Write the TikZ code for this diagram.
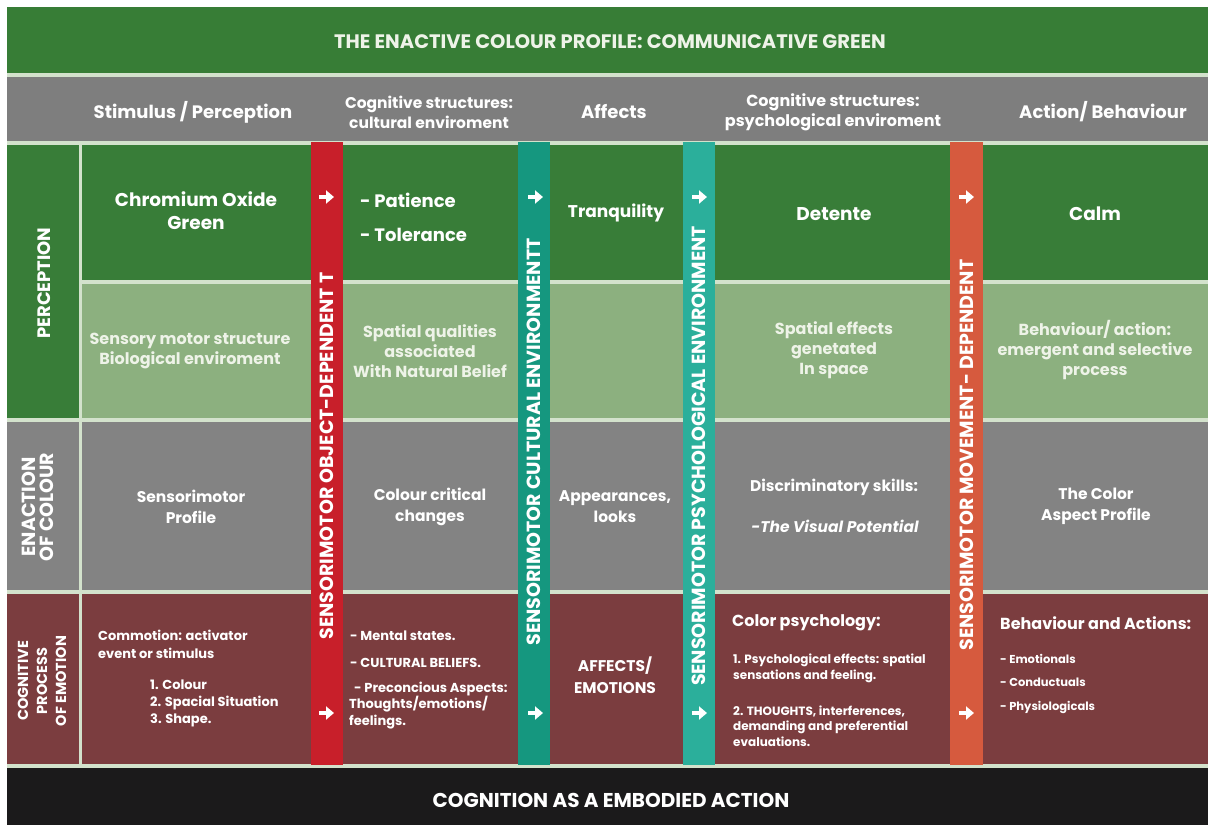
\documentclass[tikz,border=0pt]{standalone}
\usepackage{fontspec}
\setmainfont{Poppins}
\usetikzlibrary{arrows.meta}
\definecolor{hdrgreen}{HTML}{377D36}
\definecolor{hdrgray}{HTML}{7E7E7E}
\definecolor{dkgreen}{HTML}{387D38}
\definecolor{ltgreen}{HTML}{8CB07F}
\definecolor{midgray}{HTML}{838383}
\definecolor{maroonc}{HTML}{7B3D3F}
\definecolor{footblack}{HTML}{1B1A1B}
\definecolor{barred}{HTML}{C81F2A}
\definecolor{barteal}{HTML}{15977F}
\definecolor{barteal2}{HTML}{2BAF9B}
\definecolor{barorange}{HTML}{D65A3E}
\definecolor{sepc}{HTML}{D3E2CC}
\definecolor{paletxt}{HTML}{EEF3E8}
\tikzset{
  base/.style={inner sep=0pt, text=white},
  titletxt/.style={base, font=\fontsize{19.5}{22}\selectfont\bfseries},
  colhead/.style={base, align=center, font=\fontsize{18}{20}\selectfont\bfseries},
  colhead2/.style={base, align=center, font=\fontsize{15.5}{20}\selectfont\bfseries},
  bigtxt/.style={base, align=center, font=\fontsize{18.5}{23}\selectfont\bfseries},
  midtxt/.style={base, align=center, text=paletxt, font=\fontsize{16}{20}\selectfont\bfseries},
  graytxt/.style={base, align=center, font=\fontsize{15.5}{21}\selectfont\bfseries},
  smalltxt/.style={base, align=left, font=\fontsize{13}{18}\selectfont\bfseries},
  subhead/.style={base, align=left, font=\fontsize{16}{18}\selectfont\bfseries},
  tinytxt/.style={base, align=left, font=\fontsize{12}{15.5}\selectfont\bfseries},
  barlabel/.style={base, rotate=90, font=\fontsize{19}{19}\selectfont\bfseries},
  sidelabel/.style={base, rotate=90, align=center, font=\fontsize{18}{17}\selectfont\bfseries},
  arrowmark/.style={draw=white, line width=4pt, -{Triangle[length=8pt,width=13pt]}},
}
\begin{document}
\begin{tikzpicture}[x=1pt,y=-1pt]
\useasboundingbox (0,0) rectangle (1208,825);
\fill[white] (0,0) rectangle (1208,825);
\fill[sepc] (7,7) rectangle (1208,768);
% bands
\fill[hdrgreen] (7,7) rectangle (1208,73);
\fill[hdrgray] (7,77) rectangle (1208,141);
\fill[dkgreen] (7,145) rectangle (1208,280);
\fill[dkgreen] (7,280) rectangle (79,418);
\fill[ltgreen] (82,284) rectangle (1208,418);
\fill[midgray] (7,422) rectangle (1208,590);
\fill[maroonc] (7,594) rectangle (1208,764);
\fill[footblack] (7,768) rectangle (1208,825);
% left divider
\fill[sepc] (79,145) rectangle (82,764);
% bars
\fill[barred] (311,142) rectangle (343,765);
\fill[barteal] (518,142) rectangle (550,765);
\fill[barteal2] (683,142) rectangle (715,765);
\fill[barorange] (950,142) rectangle (983,765);

% title and footer
\node[titletxt, text=paletxt] (title) at (610,42) {THE ENACTIVE COLOUR PROFILE: COMMUNICATIVE GREEN};
\node[titletxt, font=\fontsize{20}{22}\selectfont\bfseries] (footer) at (611,800) {COGNITION AS A EMBODIED ACTION};

% column heads
\node[colhead] (h1) at (193,112) {Stimulus / Perception};
\node[colhead2] (h2) at (429,112) {Cognitive structures:\\cultural enviroment};
\node[colhead] (h3) at (614,112) {Affects};
\node[colhead2, font=\fontsize{16}{20}\selectfont\bfseries] (h4) at (833,112) {Cognitive structures:\\psychological enviroment};
\node[colhead] (h5) at (1103,112) {Action/ Behaviour};

% side labels
\node[sidelabel] (sPer) at (44,283) {PERCEPTION};
\node[sidelabel, font=\fontsize{19}{17.5}\selectfont\bfseries] (sEna) at (38,507) {ENACTION\\OF COLOUR};
\node[sidelabel, font=\fontsize{14.5}{19}\selectfont\bfseries] (sCog) at (42,681) {COGNITIVE\\PROCESS\\OF EMOTION};

% bar labels
\node[barlabel] (bRed) at (327,456) {SENSORIMOTOR OBJECT-DEPENDENT T};
\node[barlabel] (bTeal) at (534,442) {SENSORIMOTOR CULTURAL ENVIRONMENTT};
\node[barlabel] (bTeal2) at (699,456) {SENSORIMOTOR PSYCHOLOGICAL ENVIRONMENT};
\node[barlabel] (bOra) at (967,455) {SENSORIMOTOR MOVEMENT- DEPENDENT};

% arrows
\coordinate (a1) at (326,197);
\coordinate (a2) at (535,197);
\coordinate (a3) at (699,197);
\coordinate (a4) at (966,197);
\coordinate (a5) at (326,713);
\coordinate (a6) at (535,713);
\coordinate (a7) at (699,713);
\coordinate (a8) at (966,713);
\foreach \a in {a1,a2,a3,a4,a5,a6,a7,a8}
  \draw[arrowmark] ([xshift=-7pt]\a) -- ([xshift=8pt]\a);

% row 1
\node[bigtxt] (r1c1) at (196,210.5) {Chromium Oxide\\Green};
\node[bigtxt, align=left, anchor=west, font=\fontsize{18}{34}\selectfont\bfseries] (r1c2) at (360,217) {- Patience\\- Tolerance};
\node[bigtxt, font=\fontsize{17}{23}\selectfont\bfseries] (r1c3) at (616,213) {Tranquility};
\node[bigtxt] (r1c4) at (834,214) {Detente};
\node[bigtxt] (r1c5) at (1095,214) {Calm};

% row 2
\node[midtxt] (r2c1) at (190,351) {Sensory motor structure\\Biological enviroment};
\node[midtxt] (r2c2) at (430,351) {Spatial qualities\\associated\\With Natural Belief};
\node[midtxt] (r2c4) at (834,350) {Spatial effects\\genetated\\In space};
\node[midtxt] (r2c5) at (1095,350) {Behaviour/ action:\\emergent and selective\\process};

% row 3
\node[graytxt] (r3c1) at (191,506.5) {Sensorimotor\\Profile};
\node[graytxt] (r3c2) at (430,506.5) {Colour critical\\changes};
\node[graytxt] (r3c3) at (615,506.5) {Appearances,\\looks};
\node[graytxt] (r3c4a) at (834,487) {Discriminatory skills:};
\node[graytxt, font=\fontsize{15.5}{21}\selectfont\bfseries\itshape] (r3c4b) at (835,526) {-The Visual Potential};
\node[graytxt] (r3c5) at (1096,506.5) {The Color\\Aspect Profile};

% row 4
\node[smalltxt, anchor=west] (r4c1a) at (98,644) {Commotion: activator\\event or stimulus};
\node[smalltxt, anchor=west, font=\fontsize{13}{17}\selectfont\bfseries] (r4c1b) at (150,703) {1. Colour\\2. Spacial Situation\\3. Shape.};
\node[smalltxt, anchor=west] (r4c2a) at (350,636) {- Mental states.};
\node[smalltxt, anchor=west] (r4c2b) at (350,663) {- CULTURAL BELIEFS.};
\node[smalltxt, anchor=west, font=\fontsize{13}{16.5}\selectfont\bfseries] (r4c2c) at (349,705.5) {\hspace*{5pt}- Preconcious Aspects:\\Thoughts/emotions/\\feelings.};
\node[graytxt, font=\fontsize{15.5}{22}\selectfont\bfseries] (r4c3) at (615,675) {AFFECTS/\\EMOTIONS};
\node[subhead, anchor=west] (r4c4a) at (732,623) {Color psychology:};
\node[tinytxt, anchor=west, font=\fontsize{12}{16}\selectfont\bfseries] (r4c4b) at (733,668) {1. Psychological effects: spatial\\sensations and feeling.};
\node[tinytxt, anchor=west] (r4c4c) at (733,726) {2. THOUGHTS, interferences,\\demanding and preferential\\evaluations.};
\node[subhead, anchor=west] (r4c5a) at (1000,623) {Behaviour and Actions:};
\node[tinytxt, anchor=west, font=\fontsize{11.5}{23.5}\selectfont\bfseries] (r4c5b) at (1000,683.5) {- Emotionals\\- Conductuals\\- Physiologicals};
\end{tikzpicture}
\end{document}
